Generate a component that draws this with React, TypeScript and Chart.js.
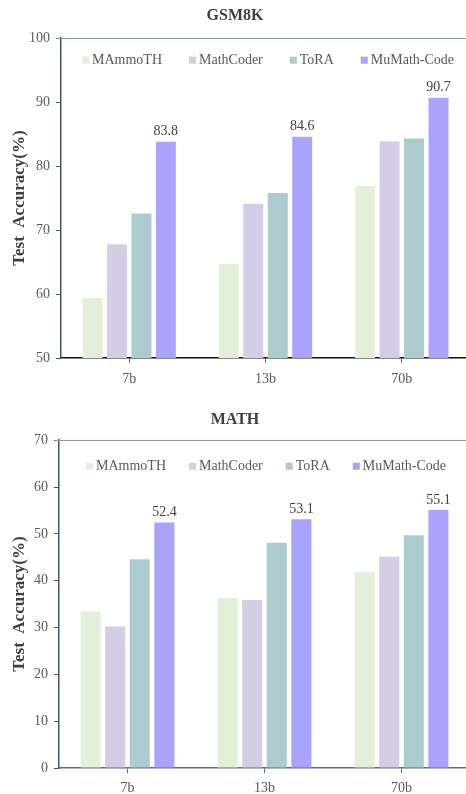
import React, { useEffect, useRef } from "react";
import { Chart, registerables } from "chart.js";

Chart.register(...registerables);

const categories = ["7b", "13b", "70b"];
const seriesNames = ["MAmmoTH", "MathCoder", "ToRA", "MuMath-Code"];
const seriesColors = ["#E2F0D9", "#D3CEE6", "#ABCBCE", "#AAA3FE"];

const gsmMammoth = [59.4, 64.7, 76.9];
const gsmMathCoder = [67.8, 74.1, 83.9];
const gsmTora = [72.6, 75.8, 84.3];
const gsmMuMath = [83.8, 84.6, 90.7];

const mathMammoth = [33.4, 36.3, 41.8];
const mathMathCoder = [30.2, 35.9, 45.1];
const mathTora = [44.6, 48.1, 49.7];
const mathMuMath = [52.4, 53.1, 55.1];

const gsmTicks = { min: 50, max: 100, step: 10 };
const mathTicks = { min: 0, max: 70, step: 10 };

const FONT = '"Liberation Serif", "Times New Roman", serif';

const overlayPlugin = {
  id: "overlay",
  afterDatasetsDraw(chart: any, _args: any, opts: any) {
    const ctx = chart.ctx;
    const area = chart.chartArea;
    ctx.save();
    // top border line
    ctx.strokeStyle = "#8796AE";
    ctx.lineWidth = 1;
    ctx.beginPath();
    ctx.moveTo(area.left - 4, Math.round(area.top) + 0.5);
    ctx.lineTo(area.right, Math.round(area.top) + 0.5);
    ctx.stroke();

    // value labels on last series
    const last = chart.data.datasets.length - 1;
    const meta = chart.getDatasetMeta(last);
    ctx.font = `14px ${FONT}`;
    ctx.fillStyle = "#404040";
    ctx.textAlign = "center";
    ctx.textBaseline = "middle";
    meta.data.forEach((bar: any, i: number) => {
      const v = chart.data.datasets[last].data[i] as number;
      ctx.fillText(v.toFixed(1), bar.x, bar.y - 10);
    });

    // legend inside chart area
    let x = area.left + opts.dx;
    const y = area.top + opts.dy;
    ctx.textAlign = "left";
    chart.data.datasets.forEach((ds: any) => {
      ctx.fillStyle = ds.backgroundColor;
      ctx.fillRect(x, y - 3.5, 7, 7);
      ctx.fillStyle = "#595959";
      ctx.fillText(ds.label, x + 10, y + 0.5);
      x += 10 + ctx.measureText(ds.label).width + opts.gap;
    });
    ctx.restore();
  },
};

function BarPanel(props: {
  title: string;
  values: number[][];
  ticks: { min: number; max: number; step: number };
  axisWidth: number;
  xHeight: number;
  xBorder: string;
  titlePad: { top: number; bottom: number };
  bottomPad: number;
  tickPad: number;
  legend: { dx: number; dy: number; gap: number };
}) {
  const ref = useRef<HTMLCanvasElement>(null);
  useEffect(() => {
    if (!ref.current) return;
    const chart = new Chart(ref.current, {
      type: "bar",
      data: {
        labels: categories,
        datasets: seriesNames.map((name, i) => ({
          label: name,
          data: props.values[i],
          backgroundColor: seriesColors[i],
          borderWidth: 0,
          categoryPercentage: 0.718,
          barPercentage: 0.816,
        })),
      },
      options: {
        animation: false,
        responsive: true,
        maintainAspectRatio: false,
        devicePixelRatio: 1,
        layout: { padding: { top: 0, left: 0, right: 0, bottom: props.bottomPad } },
        plugins: {
          legend: { display: false },
          tooltip: { enabled: false },
          title: {
            display: true,
            text: props.title,
            color: "#404040",
            font: { family: FONT, size: 16, weight: "bold" },
            padding: props.titlePad,
          },
          overlay: props.legend,
        } as any,
        scales: {
          x: {
            afterFit: (scale: any) => {
              scale.height = props.xHeight;
            },
            grid: {
              display: true,
              drawOnChartArea: false,
              drawTicks: true,
              tickLength: 5,
              offset: false,
              color: "#5B6C86",
            },
            border: { display: true, color: props.xBorder, width: 1.5 },
            ticks: {
              color: "#595959",
              font: { family: FONT, size: 14 },
              padding: props.tickPad,
            },
          },
          y: {
            min: props.ticks.min,
            max: props.ticks.max,
            afterFit: (scale: any) => {
              scale.width = props.axisWidth;
            },
            grid: {
              display: true,
              drawOnChartArea: false,
              drawTicks: true,
              tickLength: 5,
              color: "#44546A",
            },
            border: { display: true, color: "#44546A", width: 1.5 },
            ticks: {
              stepSize: props.ticks.step,
              color: "#595959",
              font: { family: FONT, size: 14 },
              padding: 6,
            },
            title: {
              display: true,
              text: "Test  Accuracy(%)",
              color: "#404040",
              font: { family: FONT, size: 17, weight: "bold" },
              padding: { top: 9, bottom: 4 },
            },
          },
        },
      },
      plugins: [overlayPlugin],
    });
    return () => chart.destroy();
  }, []);
  return <canvas ref={ref} />;
}

export default function App() {
  return (
    <div
      style={{
        position: "absolute",
        left: 0,
        top: 0,
        width: 466,
        height: 794,
        overflow: "hidden",
        background: "#ffffff",
      }}
    >
      <div style={{ position: "absolute", left: 0, top: 0, width: 470, height: 397 }}>
        <BarPanel
          title="GSM8K"
          values={[gsmMammoth, gsmMathCoder, gsmTora, gsmMuMath]}
          ticks={gsmTicks}
          axisWidth={61}
          xHeight={28}
          xBorder="#111111"
          titlePad={{ top: 6, bottom: 13 }}
          bottomPad={11}
          tickPad={8}
          legend={{ dx: 21, dy: 22, gap: 27 }}
        />
      </div>
      <div style={{ position: "absolute", left: 0, top: 397, width: 470, height: 397 }}>
        <BarPanel
          title="MATH"
          values={[mathMammoth, mathMathCoder, mathTora, mathMuMath]}
          ticks={mathTicks}
          axisWidth={59}
          xHeight={26}
          xBorder="#5B6C86"
          titlePad={{ top: 13, bottom: 11 }}
          bottomPad={0}
          tickPad={7}
          legend={{ dx: 27, dy: 26, gap: 23 }}
        />
      </div>
    </div>
  );
}
